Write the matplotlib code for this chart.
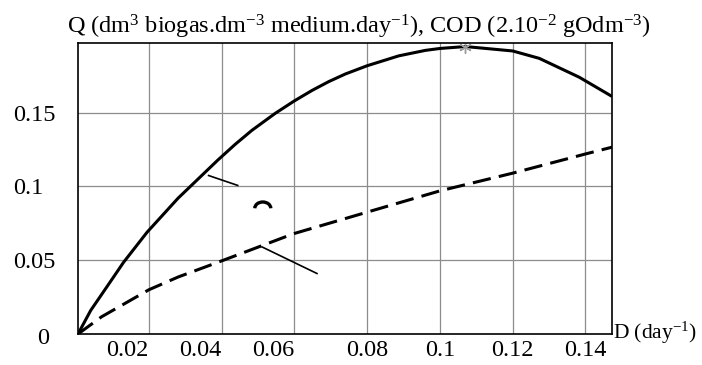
import matplotlib.pyplot as plt
from matplotlib.patches import Arc

plt.rcParams['font.family'] = ['Liberation Serif', 'DejaVu Serif']
plt.rcParams['mathtext.fontset'] = 'custom'
plt.rcParams['mathtext.rm'] = 'Liberation Serif'
plt.rcParams['mathtext.it'] = 'Liberation Serif'
plt.rcParams['font.size'] = 17.5

# biogas production rate Q vs dilution rate D
d_q = [0.0005, 0.004, 0.009, 0.013, 0.0195, 0.028, 0.039, 0.0437, 0.0483,
       0.0547, 0.06, 0.0648, 0.0694, 0.074, 0.08, 0.0887, 0.096, 0.1, 0.107,
       0.12, 0.1273, 0.1383, 0.1473]
q = [0.0, 0.016, 0.034, 0.0485, 0.069, 0.092, 0.118, 0.1285, 0.138,
     0.1495, 0.158, 0.165, 0.171, 0.1762, 0.1818, 0.1885, 0.1922, 0.1935, 0.1948,
     0.1918, 0.1868, 0.174, 0.161]

# outlet COD vs dilution rate D
d_cod = [0.0005, 0.007, 0.0134, 0.02, 0.0281, 0.0394, 0.0598, 0.0832, 0.1,
         0.12, 0.14, 0.1473]
cod = [0.0, 0.0117, 0.0207, 0.030, 0.0387, 0.049, 0.068, 0.0849, 0.097,
       0.109, 0.122, 0.1266]

# maximum of Q
d_max, q_max = 0.107, 0.1948

x_ticks = [0.02, 0.04, 0.06, 0.08, 0.1, 0.12, 0.14]
x_labels = ['0.02', '0.04', '0.06', '0.08', '0.1', '0.12', '0.14']
y_ticks = [0.05, 0.1, 0.15]
y_labels = ['0.05', '0.1', '0.15']

fig = plt.figure(figsize=(7.02, 3.65), dpi=100)
ax = fig.add_axes([0.1111, 0.0849, 0.7607, 0.7981])

ax.plot(d_q, q, color='black', lw=2.2, solid_capstyle='butt', solid_joinstyle='round')
ax.plot(d_cod, cod, color='black', lw=2.2, dashes=(6, 2.7), dash_capstyle='butt')
ax.plot(d_max, q_max, marker=(6, 2, 0), color='#9a9a9a', ms=9, mew=1)

# pointer marks
ax.plot([0.0364, 0.0444], [0.1074, 0.1007], color='black', lw=1.2)
ax.plot([0.0511, 0.0662], [0.0590, 0.0410], color='black', lw=1.2)
ax.add_patch(Arc((0.0513, 0.0852), 0.0044, 0.0085, theta1=0, theta2=180,
                 color='black', lw=2.4))

ax.set_xlim(0.0005, 0.1473)
ax.set_ylim(0, 0.1974)
ax.set_xticks(x_ticks)
ax.set_xticklabels(x_labels)
ax.set_yticks(y_ticks)
ax.set_yticklabels(y_labels)
ax.grid(True, color='#8c8c8c', lw=0.9)
ax.tick_params(length=0)
ax.tick_params(axis='x', pad=4)
ax.tick_params(axis='y', pad=46.8)
for lab in ax.get_yticklabels():
    lab.set_ha('left')
for lab in ax.get_xticklabels()[:3]:
    lab.set_ha('right')
for s in ax.spines.values():
    s.set_linewidth(1.2)

ax.annotate('0', xy=(0, 0), xycoords=('axes fraction', 'data'),
            xytext=(-35, -4), textcoords='offset pixels', ha='center', va='center')
ax.annotate('D (day$^{-1}$)', xy=(1, 0), xycoords='axes fraction',
            xytext=(1, 1), textcoords='offset pixels', ha='left', va='center',
            fontsize=15.5)

fig.text(359 / 702, 1 - 33.6 / 365,
         'Q (dm$^3$ biogas.dm$^{-3}$ medium.day$^{-1}$), COD (2.10$^{-2}$ gOdm$^{-3}$)',
         ha='center', va='baseline')

fig.savefig('out.png', dpi=100)
